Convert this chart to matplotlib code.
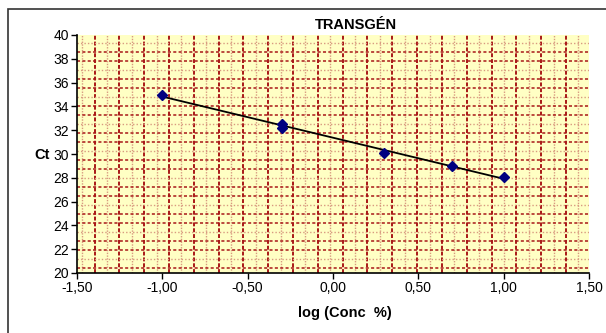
import numpy as np
import matplotlib
matplotlib.use("Agg")
import matplotlib.pyplot as plt
from matplotlib.patches import Rectangle

# data
log_conc = [-1.0, -0.3, -0.3, 0.3, 0.7, 1.0]
ct = [34.96, 32.55, 32.18, 30.1, 28.95, 28.1]
xticks = [-1.5, -1.0, -0.5, 0.0, 0.5, 1.0, 1.5]
yticks = [20, 22, 24, 26, 28, 30, 32, 34, 36, 38, 40]

plt.rcParams['font.family'] = ['Liberation Sans', 'DejaVu Sans']

W, H = 606, 333
fig = plt.figure(figsize=(W / 100, H / 100), dpi=100)
fig.patch.set_facecolor('white')

# outer chart border (only top and left visible)
fig.add_artist(Rectangle((8 / W, -0.1), 1.2, (1 - 9 / H) + 0.1,
                         transform=fig.transFigure, fill=False,
                         edgecolor='#333333', lw=1.2))

ax = fig.add_axes([77 / W, 1 - 273 / H, (589 - 77) / W, (273 - 35) / H])
ax.set_facecolor('#ffffc4')
ax.set_xlim(-1.5, 1.5)
ax.set_ylim(20, 40)

# pattern-like grid of the plot area
xs = np.arange(-1.5 + 0.03, 1.5, 0.0727)
for i, xv in enumerate(xs):
    if i % 2:
        ax.axvline(xv, color='#a81818', lw=1.4, ls=(0, (2, 1)), zorder=0.5)
    else:
        ax.axvline(xv, color='#d89a80', lw=1.0, ls=(0, (1, 1)), zorder=0.5)
ys = np.arange(20 + 0.45, 40, 0.756)
for i, yv in enumerate(ys):
    if i % 3 == 1:
        ax.axhline(yv, color='#d89a80', lw=1.0, ls=(0, (1, 1.5)), zorder=0.5)
    else:
        ax.axhline(yv, color='#a81818', lw=1.1, ls=(0, (2, 1.5)), zorder=0.5)

# trend line
k, b = np.polyfit(log_conc, ct, 1)
xl = np.array([min(log_conc), max(log_conc)])
ax.plot(xl, k * xl + b, color='black', lw=1.3, zorder=2)
ax.plot(log_conc, ct, ls='none', marker='D', ms=5.5, color='#000080', zorder=3)

ax.set_xticks(xticks)
ax.set_xticklabels([f"{v:.2f}".replace('.', ',') for v in xticks])
ax.set_yticks(yticks)
ax.tick_params(labelsize=10, length=4, width=1, direction='out', pad=2)

for s in ['top', 'right']:
    ax.spines[s].set_visible(False)
for s in ['left', 'bottom']:
    ax.spines[s].set_color('black')
    ax.spines[s].set_linewidth(1.2)

fig.text(356 / W, 1 - 25 / H, 'TRANSGÉN', ha='center', va='center',
         fontsize=10.5, fontweight='bold')
fig.text(42 / W, 1 - 155 / H, 'Ct', ha='center', va='center',
         fontsize=10.5, fontweight='bold')
fig.text(345 / W, 1 - 313 / H, 'log (Conc  %)', ha='center', va='center',
         fontsize=10.5, fontweight='bold')

fig.savefig('out.png', dpi=100)
